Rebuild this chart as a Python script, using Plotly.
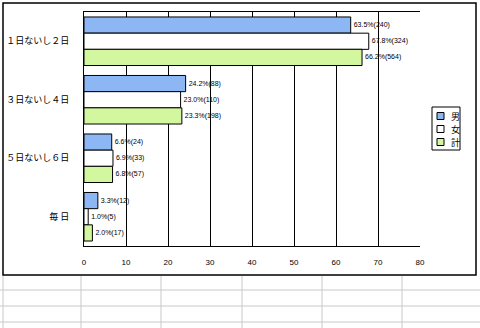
import plotly.graph_objects as go

categories = ["１日ないし２日", "３日ないし４日", "５日ないし６日", "毎 日"]
series_names = ["男", "女", "計"]
male_pct = [63.5, 24.2, 6.6, 3.3]
male_n = [240, 88, 24, 12]
female_pct = [67.8, 23.0, 6.9, 1.0]
female_n = [324, 110, 33, 5]
total_pct = [66.2, 23.3, 6.8, 2.0]
total_n = [564, 198, 57, 17]
x_ticks = [0, 10, 20, 30, 40, 50, 60, 70, 80]

colors = ["#8DB6F5", "#FFFFFF", "#D2F79E"]
W, H = 480, 328
ML, MR, MT, MB = 84, 60, 12, 82
PW, PH = W - ML - MR, H - MT - MB

def px(x):
    return (x - ML) / PW

def py(y):
    return 1 - (y - MT) / PH

fig = go.Figure()
for name, pct, n, col in zip(series_names, [male_pct, female_pct, total_pct],
                             [male_n, female_n, total_n], colors):
    fig.add_trace(go.Bar(
        y=categories, x=pct, name=name, orientation="h",
        marker=dict(color=col, line=dict(color="black", width=1)),
        text=[f"{p:.1f}%({c})" for p, c in zip(pct, n)],
        textposition="outside", cliponaxis=False,
        textfont=dict(size=7, color="black", family="Liberation Sans"),
        showlegend=False,
    ))

fig.update_layout(
    width=W, height=H,
    margin=dict(l=ML, r=MR, t=MT, b=MB, autoexpand=False),
    paper_bgcolor="white", plot_bgcolor="white",
    barmode="group", bargap=0.17, bargroupgap=0,
    font=dict(family="Noto Sans CJK JP", size=9, color="black"),
    showlegend=False,
    xaxis=dict(range=[0, 80], tickvals=x_ticks, showgrid=True, gridcolor="black",
               gridwidth=1, zeroline=False, showline=True, linecolor="black",
               mirror=True, ticks="", tickfont=dict(size=8, family="Liberation Sans"),
               ticklabelstandoff=8, automargin=False),
    yaxis=dict(autorange="reversed", showline=True, linecolor="black", ticks="",
               tickfont=dict(size=9), ticklabelstandoff=12, automargin=False),
)

shapes = []
annotations = []
# chart border
shapes.append(dict(type="rect", xref="paper", yref="paper",
                   x0=px(3), x1=px(476), y0=py(3), y1=py(275),
                   line=dict(color="black", width=1.5), layer="below"))
# legend box
shapes.append(dict(type="rect", xref="paper", yref="paper",
                   x0=px(432), x1=px(460), y0=py(107), y1=py(150),
                   line=dict(color="black", width=1), fillcolor="white"))
for i, (name, col) in enumerate(zip(series_names, colors)):
    yc = 116 + 13 * i
    shapes.append(dict(type="rect", xref="paper", yref="paper",
                       x0=px(437), x1=px(444), y0=py(yc - 3.5), y1=py(yc + 3.5),
                       line=dict(color="black", width=1), fillcolor=col))
    annotations.append(dict(xref="paper", yref="paper", x=px(449), y=py(yc),
                            text=name, showarrow=False, xanchor="left",
                            yanchor="middle", font=dict(size=9)))
# spreadsheet grid below chart
for yy in [290, 306, 322]:
    shapes.append(dict(type="line", xref="paper", yref="paper",
                       x0=px(0), x1=px(480), y0=py(yy), y1=py(yy),
                       line=dict(color="#C8C8C8", width=1)))
for xx in [3, 81, 161, 242, 322, 402]:
    shapes.append(dict(type="line", xref="paper", yref="paper",
                       x0=px(xx), x1=px(xx), y0=py(276), y1=py(328),
                       line=dict(color="#C8C8C8", width=1)))
fig.update_layout(shapes=shapes, annotations=annotations)

fig.write_html("out.html")
